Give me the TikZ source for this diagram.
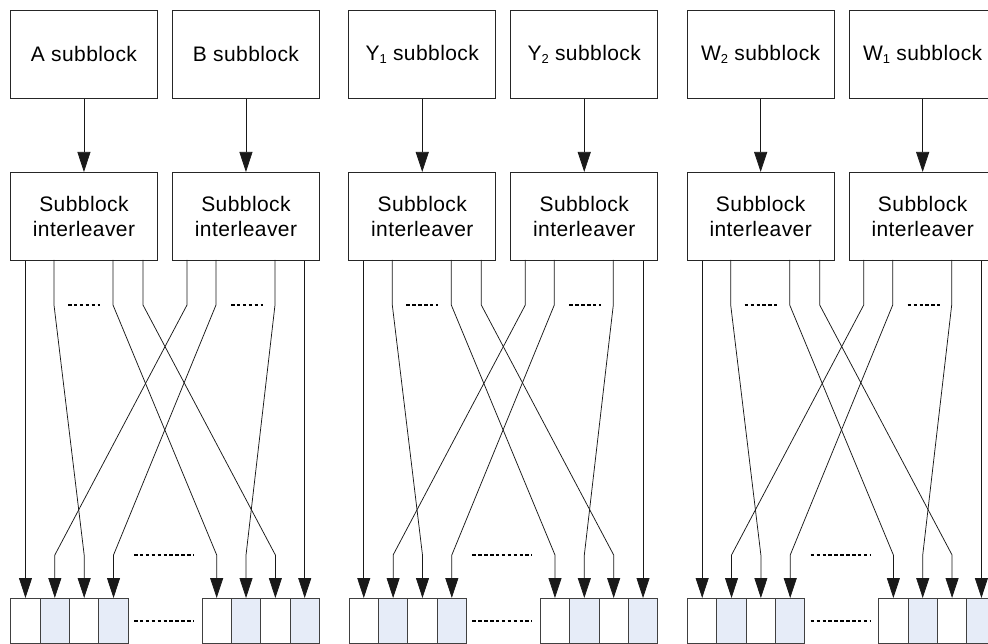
\documentclass[tikz,border=0pt]{standalone}
\usepackage{fontspec}
\setmainfont[LetterSpace=2]{Liberation Sans}
\usetikzlibrary{arrows.meta,calc}
\definecolor{cellblue}{HTML}{E6ECF8}
\newcommand\subs[1]{\raisebox{-0.28ex}{\fontsize{13}{13}\selectfont #1}}
\begin{document}
\begin{tikzpicture}[x=1pt,y=-1pt,
  blk/.style={draw=black!85,line width=0.9pt,minimum width=147pt,minimum height=88pt,
    inner sep=0pt,font=\fontsize{21}{25}\selectfont,align=center,anchor=north west},
  cellw/.style={draw=black!75,line width=1pt,minimum width=29.35pt,minimum height=44.5pt,
    inner sep=0pt,anchor=north west},
  cellb/.style={cellw,fill=cellblue},
  conn/.style={draw=black!90,line width=0.75pt},
  arr/.style={conn,-{Triangle[length=20pt,width=13pt]}},
  dots/.style={draw=black,line width=1.4pt,dash pattern=on 3.5pt off 2.4pt}
]
\useasboundingbox (0,0) rectangle (988,644);
\clip (0,0) rectangle (988,644);
\foreach \g/\la/\lb [count=\i] in {0/{A subblock}/{B subblock},
    338.3/{Y\subs{1} subblock}/{Y\subs{2} subblock},
    676.7/{W\subs{2} subblock}/{W\subs{1} subblock}}{
  \begin{scope}[xshift=\g pt]
    % source blocks
    \node[blk] (ta\i) at (10,10) {\la};
    \node[blk] (tb\i) at (172,10) {\lb};
    % interleavers
    \node[blk] (ia\i) at (10,172) {Subblock\\interleaver};
    \node[blk] (ib\i) at (172,172) {Subblock\\interleaver};
    \draw[arr] (ta\i) -- (ia\i);
    \draw[arr] (tb\i) -- (ib\i);
    % output cells
    \node[cellw] (c\i-1) at (10.3,598) {};
    \node[cellb] (c\i-2) at (39.65,598) {};
    \node[cellw] (c\i-3) at (69,598) {};
    \node[cellb] (c\i-4) at (98.35,598) {};
    \node[cellw] (c\i-5) at (201.5,598) {};
    \node[cellb] (c\i-6) at (230.85,598) {};
    \node[cellw] (c\i-7) at (260.2,598) {};
    \node[cellb] (c\i-8) at (289.55,598) {};
    % interleaver output points
    \coordinate (o\i-1) at (c\i-1.north |- ia\i.south);
    \coordinate (o\i-2) at (54,260);
    \coordinate (o\i-3) at (113,260);
    \coordinate (o\i-4) at (143,260);
    \coordinate (o\i-5) at (187,260);
    \coordinate (o\i-6) at (216,260);
    \coordinate (o\i-7) at (275,260);
    \coordinate (o\i-8) at (c\i-8.north |- ib\i.south);
    % connectors
    \draw[arr] (o\i-1) -- (c\i-1.north);
    \draw[arr] (o\i-8) -- (c\i-8.north);
    \foreach \s/\t in {2/3,3/5,4/7,5/2,6/4,7/6}{
      \draw[arr] (o\i-\s) -- (o\i-\s |- 0,305) -- (c\i-\t.north |- 0,555) -- (c\i-\t.north);
    }
    % ellipses
    \draw[dots] (68,305) -- (100,305);
    \draw[dots] (231,305) -- (263,305);
    \draw[dots] (134,555) -- (194,555);
    \draw[dots] (134,621) -- (194,621);
  \end{scope}
}
\end{tikzpicture}
\end{document}
